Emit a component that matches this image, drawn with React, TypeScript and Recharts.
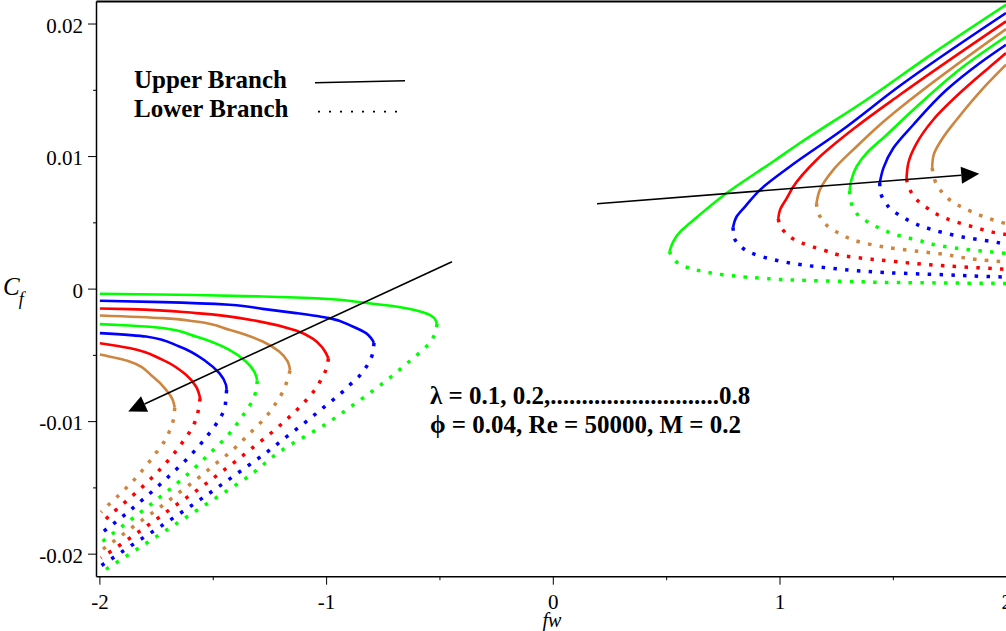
import React from 'react';
import { LineChart, Line, XAxis, YAxis, ReferenceLine } from 'recharts';

// lambda = 0.1 ... 0.8, one curve each; colours cycle green, blue, red, brown
const LAMBDAS = ['0.1', '0.2', '0.3', '0.4', '0.5', '0.6', '0.7', '0.8'];
const CURVE_COLORS = ['#00ff00', '#0000ff', '#ff0000', '#cd853f', '#00ff00', '#0000ff', '#ff0000', '#cd853f'];

// [fw, Cf] pairs
// fw < 0 family, upper (solid) branch: from fw = -2 to the turning point
const leftUpper: number[][][] = [
  [[-2.0, -0.00035], [-1.576, -0.00045], [-1.282, -0.00056], [-1.135, -0.00063], [-0.988, -0.00075], [-0.841, -0.00101], [-0.694, -0.00131], [-0.576, -0.00174], [-0.525, -0.00219], [-0.513, -0.00262]],
  [[-2.0, -0.00088], [-1.723, -0.00098], [-1.429, -0.00118], [-1.282, -0.00149], [-1.135, -0.00181], [-0.988, -0.00219], [-0.885, -0.00282], [-0.826, -0.00332], [-0.804, -0.0037], [-0.791, -0.00405]],
  [[-2.0, -0.00146], [-1.87, -0.00151], [-1.576, -0.00181], [-1.282, -0.00249], [-1.135, -0.00312], [-1.061, -0.00373], [-1.017, -0.00445], [-0.992, -0.00522]],
  [[-2.0, -0.00199], [-1.723, -0.00219], [-1.576, -0.00245], [-1.429, -0.00307], [-1.282, -0.00395], [-1.209, -0.00471], [-1.172, -0.00546], [-1.161, -0.00614]],
  [[-2.0, -0.00264], [-1.87, -0.00275], [-1.723, -0.00294], [-1.576, -0.00358], [-1.429, -0.00458], [-1.356, -0.00546], [-1.319, -0.00622], [-1.306, -0.0069]],
  [[-2.0, -0.00332], [-1.797, -0.00358], [-1.65, -0.00433], [-1.532, -0.00546], [-1.473, -0.00634], [-1.444, -0.00722], [-1.441, -0.0076]],
  [[-2.0, -0.00408], [-1.87, -0.00445], [-1.723, -0.00534], [-1.62, -0.00647], [-1.576, -0.00735], [-1.558, -0.00823]],
  [[-2.0, -0.00494], [-1.87, -0.00546], [-1.767, -0.0066], [-1.708, -0.0076], [-1.679, -0.00835], [-1.67, -0.00894]],
];

// fw < 0 family, lower (dotted) branch: from the turning point back to fw = -2
const leftLower: number[][][] = [
  [[-0.513, -0.00262], [-0.526, -0.00352], [-0.557, -0.00428], [-0.62, -0.00524], [-0.738, -0.00692], [-0.865, -0.00853], [-0.993, -0.01007], [-1.206, -0.01226], [-1.341, -0.01409], [-1.513, -0.01603], [-1.689, -0.01799], [-1.863, -0.01992], [-1.995, -0.02139]],
  [[-0.791, -0.00405], [-0.801, -0.00509], [-0.826, -0.00589], [-0.858, -0.0066], [-0.897, -0.00722], [-0.936, -0.00785], [-1.017, -0.00898], [-1.098, -0.01011], [-1.179, -0.01117], [-1.26, -0.01226], [-1.345, -0.01331], [-1.429, -0.01434], [-1.517, -0.0154], [-1.689, -0.01741], [-1.863, -0.01937], [-1.995, -0.02088]],
  [[-0.992, -0.00522], [-1.003, -0.00609], [-1.025, -0.00685], [-1.054, -0.00765], [-1.088, -0.00835], [-1.165, -0.00966], [-1.242, -0.01082], [-1.323, -0.01192], [-1.403, -0.01301], [-1.485, -0.01407], [-1.569, -0.01515], [-1.657, -0.01621], [-1.826, -0.01829], [-1.995, -0.0203]],
  [[-1.161, -0.00614], [-1.17, -0.00665], [-1.185, -0.00745], [-1.223, -0.0086], [-1.267, -0.00962], [-1.341, -0.01092], [-1.414, -0.01213], [-1.495, -0.01326], [-1.576, -0.01439], [-1.66, -0.01547], [-1.744, -0.01658], [-1.829, -0.01762], [-1.911, -0.01867], [-1.995, -0.01973]],
  [[-1.306, -0.0069], [-1.309, -0.00745], [-1.319, -0.00811], [-1.342, -0.00886], [-1.37, -0.00956], [-1.436, -0.01105], [-1.51, -0.0123], [-1.586, -0.01356], [-1.664, -0.01472], [-1.745, -0.01583], [-1.829, -0.01696], [-1.911, -0.01802], [-1.995, -0.01912]],
  [[-1.441, -0.0076], [-1.444, -0.0082], [-1.449, -0.00894], [-1.47, -0.00974], [-1.5, -0.01049], [-1.532, -0.0112], [-1.601, -0.01256], [-1.676, -0.01381], [-1.753, -0.01502], [-1.833, -0.0162], [-1.914, -0.01736], [-1.995, -0.01842]],
  [[-1.558, -0.00823], [-1.564, -0.00898], [-1.576, -0.00981], [-1.598, -0.01062], [-1.628, -0.01137], [-1.66, -0.01213], [-1.727, -0.01346], [-1.8, -0.01472], [-1.877, -0.0159], [-1.959, -0.01711], [-1.995, -0.01771]],
  [[-1.67, -0.00894], [-1.676, -0.00986], [-1.694, -0.01075], [-1.716, -0.0115], [-1.748, -0.01226], [-1.779, -0.01296], [-1.811, -0.01364], [-1.845, -0.01432], [-1.882, -0.01497], [-1.919, -0.0156], [-1.959, -0.01623], [-1.995, -0.01683]],
];

// fw > 0 family, upper (solid) branch: turning point -> fw = 2
const rightUpper: number[][][] = [
  [[0.513, 0.00287], [0.529, 0.00359], [0.559, 0.00432], [0.603, 0.00498], [0.765, 0.00725], [0.97, 0.00963], [1.088, 0.01102], [1.382, 0.01429], [1.676, 0.01781], [1.997, 0.02146]],
  [[0.793, 0.00467], [0.809, 0.00548], [0.846, 0.00623], [0.912, 0.00749], [1.044, 0.00925], [1.265, 0.01189], [1.529, 0.01534], [1.997, 0.02083]],
  [[0.992, 0.0053], [1.0, 0.00598], [1.03, 0.00686], [1.059, 0.00774], [1.162, 0.00976], [1.338, 0.01227], [1.529, 0.01466], [1.997, 0.0202]],
  [[1.161, 0.00648], [1.176, 0.00749], [1.235, 0.009], [1.338, 0.01076], [1.441, 0.0124], [1.529, 0.01366], [1.997, 0.01962]],
  [[1.307, 0.00742], [1.315, 0.00825], [1.338, 0.00925], [1.382, 0.01026], [1.471, 0.01165], [1.588, 0.01353], [1.809, 0.0168], [1.997, 0.01906]],
  [[1.44, 0.00802], [1.456, 0.00913], [1.5, 0.01064], [1.588, 0.0124], [1.735, 0.01504], [1.882, 0.01706], [1.997, 0.01844]],
  [[1.558, 0.00832], [1.566, 0.00951], [1.603, 0.01102], [1.676, 0.01278], [1.809, 0.01504], [1.926, 0.01678], [1.997, 0.01781]],
  [[1.671, 0.00915], [1.676, 0.01001], [1.713, 0.01127], [1.779, 0.01278], [1.882, 0.01489], [1.997, 0.01693]],
];

// fw > 0 family, lower (dotted) branch: turning point -> fw = 2
const rightLower: number[][][] = [
  [[0.513, 0.00287], [0.518, 0.00259], [0.551, 0.00196], [0.6, 0.00158], [0.647, 0.00138], [0.75, 0.00108], [0.912, 0.00083], [1.118, 0.00065], [1.323, 0.00057], [1.485, 0.0005], [1.75, 0.00046], [1.997, 0.00043]],
  [[0.793, 0.00467], [0.794, 0.0041], [0.82, 0.00334], [0.868, 0.00276], [0.963, 0.00226], [1.066, 0.00191], [1.221, 0.00158], [1.382, 0.00133], [1.485, 0.00123], [1.728, 0.00108], [1.956, 0.00093], [1.997, 0.00091]],
  [[0.992, 0.0053], [1.015, 0.00442], [1.052, 0.00385], [1.098, 0.00347], [1.198, 0.00291], [1.301, 0.00246], [1.404, 0.00226], [1.507, 0.00208], [1.662, 0.00183], [1.978, 0.00151], [1.997, 0.00149]],
  [[1.161, 0.00648], [1.166, 0.00591], [1.184, 0.00528], [1.221, 0.0046], [1.265, 0.00417], [1.36, 0.00352], [1.463, 0.00317], [1.706, 0.00266], [1.978, 0.00208], [1.997, 0.00206]],
  [[1.307, 0.00742], [1.309, 0.00699], [1.323, 0.00611], [1.36, 0.00536], [1.404, 0.00491], [1.454, 0.00448], [1.5, 0.00417], [1.551, 0.00392], [1.603, 0.00372], [1.706, 0.00327], [1.809, 0.00302], [1.912, 0.00284], [1.997, 0.0027]],
  [[1.44, 0.00802], [1.441, 0.00749], [1.459, 0.00669], [1.493, 0.00598], [1.537, 0.00548], [1.581, 0.00506], [1.629, 0.00472], [1.728, 0.00423], [1.831, 0.00385], [1.934, 0.00359], [1.997, 0.00338]],
  [[1.558, 0.00832], [1.573, 0.00749], [1.603, 0.00674], [1.644, 0.00619], [1.688, 0.00568], [1.735, 0.00531], [1.784, 0.00503], [1.835, 0.00478], [1.885, 0.00453], [1.936, 0.0043], [1.997, 0.00412]],
  [[1.671, 0.00915], [1.674, 0.00888], [1.688, 0.008], [1.718, 0.00725], [1.754, 0.00666], [1.801, 0.00619], [1.85, 0.00581], [1.897, 0.00548], [1.948, 0.00518], [1.997, 0.00493]],
];

// arrows showing increasing lambda, [fw, Cf] tail -> head
const ARROWS = [
  { from: [-0.447, 0.00206], to: [-1.875, -0.00924] },
  { from: [0.193, 0.00644], to: [1.879, 0.0087] },
];

const X_TICKS = [-2, -1.5, -1, -0.5, 0, 0.5, 1, 1.5, 2];
const Y_TICKS = [-0.02, -0.015, -0.01, -0.005, 0, 0.005, 0.01, 0.015, 0.02];
const X_DOMAIN = [-2.015, 2];
const Y_DOMAIN = [-0.0217, 0.0217];

const LAMBDA_TEXT = `λ = ${LAMBDAS[0]}, ${LAMBDAS[1]},${'.'.repeat(27)}${LAMBDAS[7]}`;
const PARAM_TEXT = 'ϕ = 0.04, Re = 50000, M = 0.2';

const FONT = "'Liberation Serif', 'Times New Roman', serif";

const toPoints = (pts: number[][]) => pts.map(([x, y]) => ({ x, y }));

const XTick = (props: any) => {
  const { x, y, payload } = props;
  const v = payload.value;
  const major = Math.abs(v - Math.round(v)) < 1e-9;
  return (
    <g>
      <line x1={x} y1={y} x2={x} y2={y + (major ? 8 : 3.5)} stroke="#000" strokeWidth={1} />
      {major && (
        <text x={x} y={y + 32.5} textAnchor="middle" fontFamily={FONT} fontSize={21} fill="#000">
          {v}
        </text>
      )}
    </g>
  );
};

const YTick = (props: any) => {
  const { x, y, payload } = props;
  const v = payload.value;
  const major = Math.abs(v * 100 - Math.round(v * 100)) < 1e-6;
  return (
    <g>
      <line x1={x - (major ? 8.5 : 3.5)} y1={y} x2={x} y2={y} stroke="#000" strokeWidth={1} />
      {major && (
        <text x={x - 13.5} y={y + 8.5} textAnchor="end" fontFamily={FONT} fontSize={21} fill="#000">
          {v === 0 ? '0' : v.toFixed(2)}
        </text>
      )}
    </g>
  );
};

const ArrowShape = (p: any) => {
  const { x1, y1, x2, y2 } = p;
  const dx = x2 - x1;
  const dy = y2 - y1;
  const len = Math.hypot(dx, dy) || 1;
  const ux = dx / len;
  const uy = dy / len;
  const L = 18;
  const W = 8.5;
  const bx = x2 - ux * L;
  const by = y2 - uy * L;
  return (
    <g>
      <line x1={x1} y1={y1} x2={bx} y2={by} stroke="#000" strokeWidth={1.6} />
      <polygon points={`${x2},${y2} ${bx - uy * W},${by + ux * W} ${bx + uy * W},${by - ux * W}`} fill="#000" />
    </g>
  );
};

const App = () => {
  const solid = (sets: number[][][], tag: string) =>
    sets.map((pts, i) => (
      <Line
        key={`${tag}${i}`}
        data={toPoints(pts)}
        dataKey="y"
        type="monotoneY"
        stroke={CURVE_COLORS[i]}
        strokeWidth={2.6}
        dot={false}
        activeDot={false}
        isAnimationActive={false}
      />
    ));
  const dotted = (sets: number[][][], tag: string) =>
    sets.map((pts, i) => (
      <Line
        key={`${tag}${i}`}
        data={toPoints(pts)}
        dataKey="y"
        type="monotoneY"
        stroke={CURVE_COLORS[i]}
        strokeWidth={3.5}
        strokeDasharray="3.5 8.3"
        dot={false}
        activeDot={false}
        isAnimationActive={false}
      />
    ));

  return (
    <div style={{ position: 'absolute', left: 0, top: 0, width: 1006, height: 631, overflow: 'hidden', background: '#fff' }}>
      <LineChart width={1010} height={631} margin={{ top: 1.5, right: 3.3, left: 0, bottom: 0 }}>
        <XAxis
          type="number"
          dataKey="x"
          domain={X_DOMAIN}
          ticks={X_TICKS}
          interval={0}
          allowDataOverflow
          height={54.3}
          tickSize={0}
          tickMargin={0}
          tickLine={false}
          tick={<XTick />}
          axisLine={{ stroke: '#000', strokeWidth: 1.5 }}
        />
        <YAxis
          type="number"
          domain={Y_DOMAIN}
          ticks={Y_TICKS}
          interval={0}
          allowDataOverflow
          width={96.5}
          tickSize={0}
          tickMargin={0}
          tickLine={false}
          tick={<YTick />}
          axisLine={{ stroke: '#000', strokeWidth: 1.5 }}
        />
        <ReferenceLine y={Y_DOMAIN[1]} stroke="#000" strokeWidth={2} ifOverflow="visible" />
        {solid(leftUpper, 'lu')}
        {dotted(leftLower, 'll')}
        {solid(rightUpper, 'ru')}
        {dotted(rightLower, 'rl')}
        {ARROWS.map((a, i) => (
          <ReferenceLine
            key={`arrow${i}`}
            segment={[
              { x: a.from[0], y: a.from[1] },
              { x: a.to[0], y: a.to[1] },
            ]}
            shape={ArrowShape}
            ifOverflow="visible"
          />
        ))}
      </LineChart>
      <svg
        width={1006}
        height={631}
        style={{ position: 'absolute', left: 0, top: 0, pointerEvents: 'none' }}
      >
        <g fontFamily={FONT} fontWeight="bold" fontSize={25} fill="#000">
          <text x={134} y={88}>Upper Branch</text>
          <text x={134} y={116.5}>Lower Branch</text>
          <text x={430} y={403.5}>{LAMBDA_TEXT}</text>
          <text x={430} y={432.5}>{PARAM_TEXT}</text>
        </g>
        <line x1={315} y1={82.7} x2={405} y2={80.7} stroke="#000" strokeWidth={1.5} />
        <line x1={318} y1={111.7} x2={406} y2={111.7} stroke="#000" strokeWidth={1.8} strokeDasharray="2 9" />
        <text x={3} y={295} fontFamily={FONT} fontStyle="italic" fill="#000">
          <tspan fontSize={25}>C</tspan>
          <tspan fontSize={18} dx={-1} dy={9.5}>f</tspan>
        </text>
        <text x={552} y={627} textAnchor="middle" fontFamily={FONT} fontStyle="italic" fontSize={20} fill="#000">
          fw
        </text>
      </svg>
    </div>
  );
};

export default App;
